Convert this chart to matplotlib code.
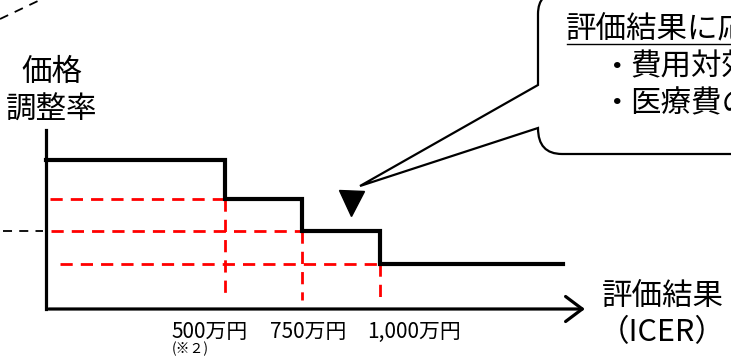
import matplotlib
matplotlib.use('Agg')
import matplotlib.pyplot as plt
from matplotlib.path import Path
from matplotlib.patches import PathPatch, FancyArrowPatch

plt.rcParams['font.family'] = ['Noto Sans CJK JP', 'DejaVu Sans']

# ── データ (模式図) ──
thresholds = [500, 750, 1000]                  # ICER 閾値 (万円)
tick_labels = ['500万円', '750万円', '1,000万円']
rate_levels = [1.0, 0.74, 0.52, 0.30]          # 価格調整率 (各区間)
x_end = 1592                                   # 階段線の右端
marker_x, marker_y = 908, 0.71                 # ▼ の位置

W, H = 731, 358
fig = plt.figure(figsize=(W / 100, H / 100), dpi=100)

# メイン軸: px 46..585 (x), px 130..309 (y)
ax = fig.add_axes([46 / W, (H - 309) / H, (585 - 46) / W, (309 - 130) / H])
ax.set_xlim(-76, 1663)
ax.set_ylim(0, 1.2)
for s in ['top', 'right', 'bottom']:
    ax.spines[s].set_visible(False)
ax.spines['left'].set_linewidth(2.3)
ax.set_xticks([]); ax.set_yticks([])
ax.patch.set_alpha(0)

# x軸 (矢印)
arr = FancyArrowPatch((0, 0), (1.005, 0), transform=ax.transAxes,
                      arrowstyle='->,head_length=0.6,head_width=0.45',
                      mutation_scale=20, lw=2.3, color='black', clip_on=False)
ax.add_patch(arr)

# 赤い補助線
red_kw = dict(color='#FF0000', lw=2.0, dashes=(4.4, 2.9), clip_on=False)
guide_start = [-63, -60, -31]
for xs, xt, lv in zip(guide_start, thresholds, rate_levels[1:]):
    ax.plot([xs, xt], [lv, lv], **red_kw)
for xt, lv in zip(thresholds, rate_levels[1:]):
    ax.plot([xt, xt], [lv, 0.06], **red_kw)

# 階段線
xs_step = [-76] + thresholds + [x_end]
ys_step = rate_levels + [rate_levels[-1]]
ax.plot(xs_step, ys_step, drawstyle='steps-post', color='black', lw=3,
        solid_joinstyle='miter', clip_on=False, zorder=5)

# 左の黒破線
ax.plot([-215, -86], [rate_levels[2], rate_levels[2]], color='black', lw=1.3,
        dashes=(5, 4), clip_on=False)

# ▼
ax.plot([marker_x], [marker_y], marker='v', ms=18, color='black', clip_on=False)

# 目盛りラベル
offsets = [-53, -32, -12]
for xt, lab, off in zip(thresholds, tick_labels, offsets):
    ax.annotate(lab, (xt, 0), xytext=(off, -23), textcoords='offset pixels',
                ha='left', va='center', fontsize=15, annotation_clip=False)
ax.annotate('(※２)', (thresholds[0], 0), xytext=(offsets[0], -40),
            textcoords='offset pixels', ha='left', va='center', fontsize=10,
            annotation_clip=False)

# ── オーバーレイ (ピクセル座標) ──
ov = fig.add_axes([0, 0, 1, 1])
ov.set_xlim(0, W); ov.set_ylim(H, 0)
ov.axis('off')
ov.patch.set_alpha(0)

# 左上の破線
ov.plot([0, 40], [19, 0], color='black', lw=1.3, dashes=(5, 4))

# 軸ラベル
ov.text(52, 72, '価格', fontsize=22, ha='center', va='center')
ov.text(52, 110, '調整率', fontsize=22, ha='center', va='center')
ov.text(663, 296, '評価結果', fontsize=22, ha='center', va='center')
ov.text(662, 333, '（ICER）', fontsize=22, ha='center', va='center')

# 吹き出し
verts = [(538, 85), (538, 14), (538, -8), (560, -8), (780, -8), (780, 154),
         (562, 154), (538, 154), (538, 128), (360, 186), (538, 85)]
codes = [Path.MOVETO, Path.LINETO, Path.CURVE3, Path.CURVE3, Path.LINETO,
         Path.LINETO, Path.LINETO, Path.CURVE3, Path.CURVE3, Path.LINETO,
         Path.CLOSEPOLY]
ov.add_patch(PathPatch(Path(verts, codes), facecolor='white', edgecolor='black',
                       lw=1.6, joinstyle='miter'))

ov.text(566, 29, '評価結果に応じて', fontsize=22, ha='left', va='center',
        clip_on=True)
ov.plot([567, 731], [44, 44], color='black', lw=1)
ov.text(617, 67, '・', fontsize=22, ha='center', va='center')
ov.text(630, 67, '費用対効果', fontsize=22, ha='left', va='center', clip_on=True)
ov.text(617, 104, '・', fontsize=22, ha='center', va='center')
ov.text(630, 104, '医療費の', fontsize=22, ha='left', va='center', clip_on=True)

fig.savefig('out.png', dpi=100)
